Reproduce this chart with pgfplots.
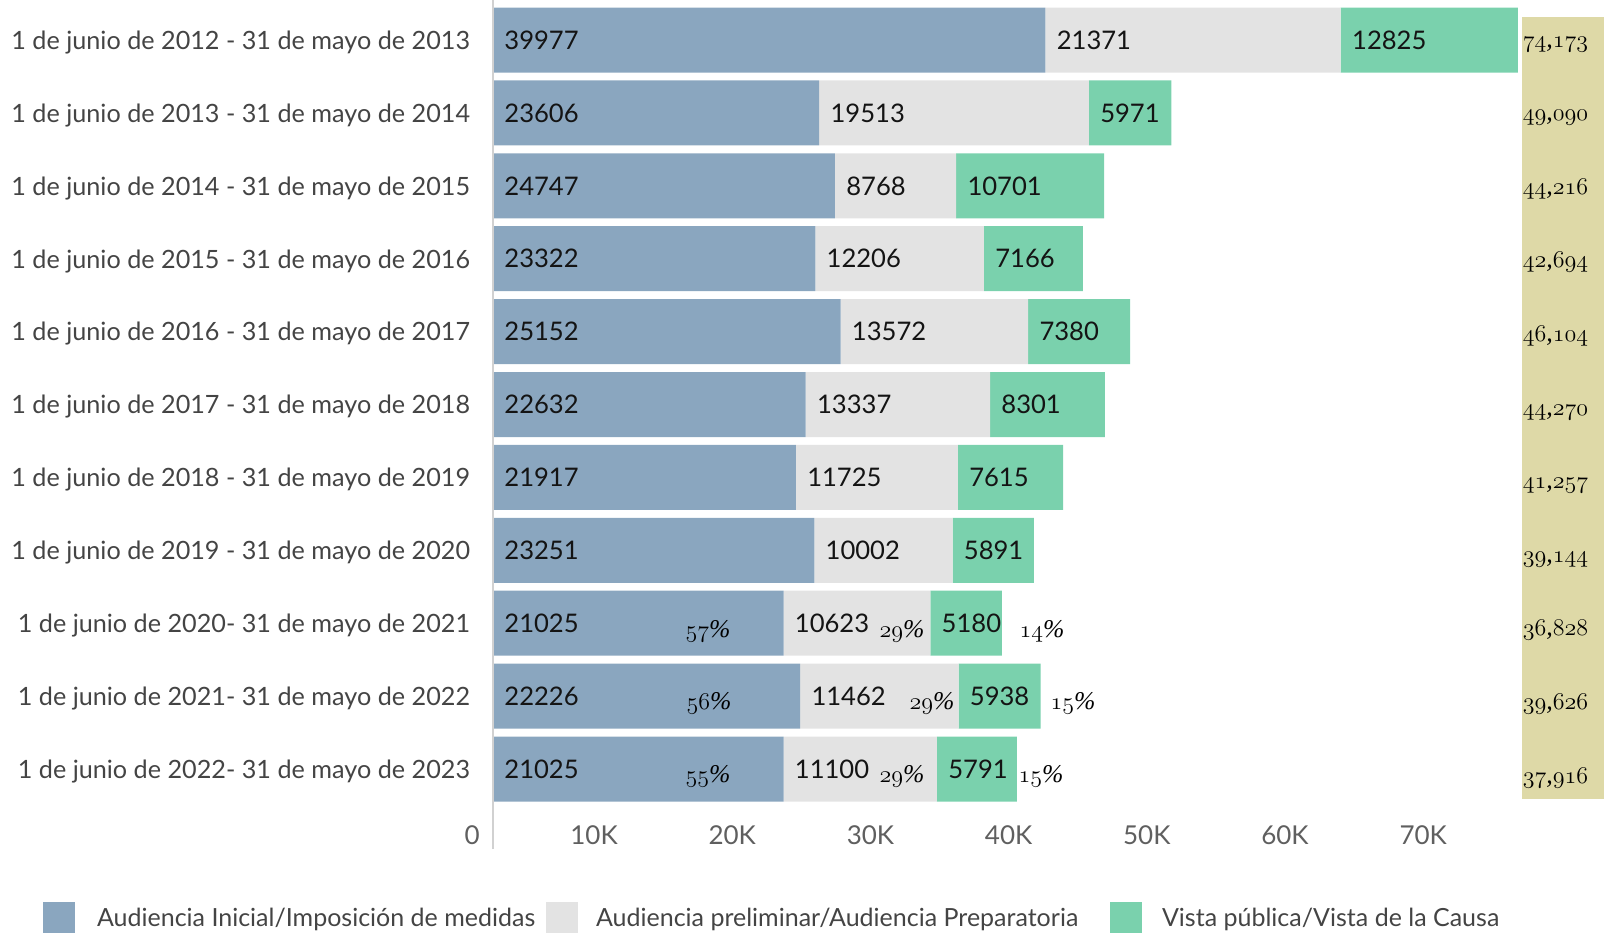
\documentclass[border=0pt]{standalone}
\usepackage{fontspec}
\setmainfont{Lato}
\newfontfamily\serifit{Liberation Serif}
\usepackage{pgfplots}
\pgfplotsset{compat=1.18}
\usepackage{pgfplotstable}
\definecolor{cA}{RGB}{138,166,191}
\definecolor{cB}{RGB}{227,227,227}
\definecolor{cC}{RGB}{122,209,173}
\definecolor{cT}{RGB}{222,217,167}
\definecolor{lbl}{RGB}{68,68,68}
\definecolor{tck}{RGB}{95,95,95}
\newcommand\osn[1]{{\usefont{OML}{lmm}{m}{it}#1}}
\newcommand\sit[1]{{\serifit\itshape #1}}
\newcommand\tot[2]{\osn{#1}\sit{,}\osn{#2}}
\newcommand\pc[1]{\osn{#1}\sit{\%}}
\pgfplotsset{sqlegend/.style={legend image code/.code={\fill[##1,draw=none] (0pt,-7.75pt) rectangle (16pt,7.75pt);}},
  frame/.style={at={(246.5pt,42pt)}, anchor=south west,
  scale only axis, width=555.5pt, height=424.5pt,
  xmin=0, xmax=80400, ymin=-1.097, ymax=10.549, clip=false}}
\tikzset{
  val/.style={anchor=west, inner sep=0pt, xshift=5.5pt, text depth=0pt, font=\fontsize{12.8}{15}\selectfont, text=black!92},
  tt/.style={anchor=base west, inner sep=0pt, xshift=0.3pt, font=\fontsize{13}{15}\selectfont, text=black},
  pp/.style={anchor=base, inner sep=0pt, font=\fontsize{12.8}{15}\selectfont, text=black},
}
% y = 10 - row (row 0 = 2012-2013 at top)
\pgfplotstableread{
y a b c
10 39977 21371 12825
9 23606 19513 5971
8 24747 8768 10701
7 23322 12206 7166
6 25152 13572 7380
5 22632 13337 8301
4 21917 11725 7615
3 23251 10002 5891
2 21025 10623 5180
1 22226 11462 5938
0 21025 11100 5791
}\data
\begin{document}
\begin{tikzpicture}
\useasboundingbox (0,0) rectangle (802pt,466.5pt);
\begin{axis}[
  frame,
  xbar stacked, bar width=32.5pt,
  axis line style={draw=none},
  major tick length=0pt,
  xtick={0,10000,20000,30000,40000,50000,60000,70000},
  xticklabels={0,10K,20K,30K,40K,50K,60K,70K},
  scaled x ticks=false,
  xticklabel style={anchor=north east, inner sep=0pt, xshift=-6.5pt, yshift=12pt, text depth=0pt, font=\fontsize{13}{15}\selectfont, text=tck},
  ytick={0,1,2,3,4,5,6,7,8,9,10},
  yticklabels={
    1 de junio de 2022- 31 de mayo de 2023,
    1 de junio de 2021- 31 de mayo de 2022,
    1 de junio de 2020- 31 de mayo de 2021,
    1 de junio de 2019 - 31 de mayo de 2020,
    1 de junio de 2018 - 31 de mayo de 2019,
    1 de junio de 2017 - 31 de mayo de 2018,
    1 de junio de 2016 - 31 de mayo de 2017,
    1 de junio de 2015 - 31 de mayo de 2016,
    1 de junio de 2014 - 31 de mayo de 2015,
    1 de junio de 2013 - 31 de mayo de 2014,
    1 de junio de 2012 - 31 de mayo de 2013},
  yticklabel style={anchor=east, inner sep=0pt, xshift=-11.25pt, text depth=0pt, font=\fontsize{12.6}{15}\selectfont, text=lbl},
  legend columns=3,
  legend cell align=left,
  legend style={at={(-0.405,-0.0624)}, anchor=north west, draw=none, fill=none, inner sep=0pt, outer sep=0pt,
    font=\fontsize{12.5}{15}\selectfont, text=lbl,
    nodes={inner sep=0pt, text depth=0pt},
    cells={anchor=west}},
]
\fill[cT] (axis cs:74463,10.316) rectangle (axis cs:80400,-0.41);
\draw[black!18, line width=1pt] (rel axis cs:0,0) -- (rel axis cs:0,1);
\addplot[fill=cA, draw=none, sqlegend] table[x=a, y=y] {\data};
\addlegendentry{\makebox[235.5pt][l]{\hspace{11pt}Audiencia Inicial/Imposición de medidas}}
\addplot[fill=cB, draw=none, sqlegend] table[x=b, y=y] {\data};
\addlegendentry{\makebox[266pt][l]{\hspace{9pt}Audiencia preliminar/Audiencia Preparatoria}}
\addplot[fill=cC, draw=none, sqlegend] table[x=c, y=y] {\data};
\addlegendentry{\hspace{10pt}Vista pública/Vista de la Causa}
\end{axis}
\begin{axis}[frame, hide axis]
% segment labels
\node[val] at (axis cs:0,10) {39977};
\node[val] at (axis cs:39977,10) {21371};
\node[val] at (axis cs:61348,10) {12825};
\node[val] at (axis cs:0,9) {23606};
\node[val] at (axis cs:23606,9) {19513};
\node[val] at (axis cs:43119,9) {5971};
\node[val] at (axis cs:0,8) {24747};
\node[val] at (axis cs:24747,8) {8768};
\node[val] at (axis cs:33515,8) {10701};
\node[val] at (axis cs:0,7) {23322};
\node[val] at (axis cs:23322,7) {12206};
\node[val] at (axis cs:35528,7) {7166};
\node[val] at (axis cs:0,6) {25152};
\node[val] at (axis cs:25152,6) {13572};
\node[val] at (axis cs:38724,6) {7380};
\node[val] at (axis cs:0,5) {22632};
\node[val] at (axis cs:22632,5) {13337};
\node[val] at (axis cs:35969,5) {8301};
\node[val] at (axis cs:0,4) {21917};
\node[val] at (axis cs:21917,4) {11725};
\node[val] at (axis cs:33642,4) {7615};
\node[val] at (axis cs:0,3) {23251};
\node[val] at (axis cs:23251,3) {10002};
\node[val] at (axis cs:33253,3) {5891};
\node[val] at (axis cs:0,2) {21025};
\node[val] at (axis cs:21025,2) {10623};
\node[val] at (axis cs:31648,2) {5180};
\node[val] at (axis cs:0,1) {22226};
\node[val] at (axis cs:22226,1) {11462};
\node[val] at (axis cs:33688,1) {5938};
\node[val] at (axis cs:0,0) {21025};
\node[val] at (axis cs:21025,0) {11100};
\node[val] at (axis cs:32125,0) {5791};
% totals
\node[tt] at (axis cs:74463,9.904) {\tot{74}{173}};
\node[tt] at (axis cs:74463,8.894) {\tot{49}{090}};
\node[tt] at (axis cs:74463,7.885) {\tot{44}{216}};
\node[tt] at (axis cs:74463,6.875) {\tot{42}{694}};
\node[tt] at (axis cs:74463,5.866) {\tot{46}{104}};
\node[tt] at (axis cs:74463,4.856) {\tot{44}{270}};
\node[tt] at (axis cs:74463,3.846) {\tot{41}{257}};
\node[tt] at (axis cs:74463,2.837) {\tot{39}{144}};
\node[tt] at (axis cs:74463,1.827) {\tot{36}{828}};
\node[tt] at (axis cs:74463,0.818) {\tot{39}{626}};
\node[tt] at (axis cs:74463,-0.192) {\tot{37}{916}};
% shares
\node[pp] at (axis cs:15558,1.81) {\pc{57}};
\node[pp] at (axis cs:29597,1.81) {\pc{29}};
\node[pp] at (axis cs:39728,1.81) {\pc{14}};
\node[pp] at (axis cs:15631,0.81) {\pc{56}};
\node[pp] at (axis cs:31768,0.81) {\pc{29}};
\node[pp] at (axis cs:41971,0.81) {\pc{15}};
\node[pp] at (axis cs:15558,-0.19) {\pc{55}};
\node[pp] at (axis cs:29597,-0.19) {\pc{29}};
\node[pp] at (axis cs:39656,-0.19) {\pc{15}};
\end{axis}
\end{tikzpicture}
\end{document}
